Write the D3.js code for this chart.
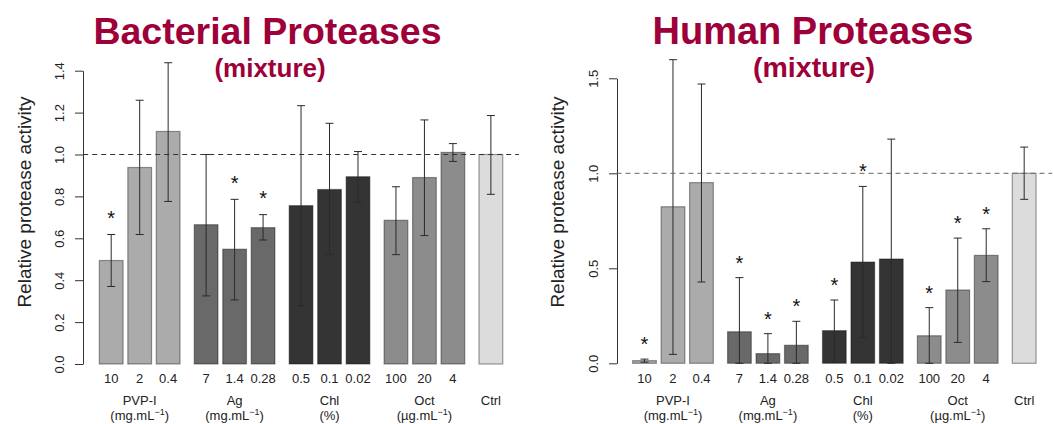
<!DOCTYPE html>
<html>
<head>
<meta charset="utf-8">
<script src="https://cdnjs.cloudflare.com/ajax/libs/d3/7.8.5/d3.min.js"></script>
<style>
  body { margin: 0; background: #fff; }
  text { font-family: "Liberation Sans", Arial, Helvetica, sans-serif; }
</style>
</head>
<body>
<div id="chart"></div>
<script>
// doses under each bar, and the treatment group each bar belongs to
const doses   = ["10", "2", "0.4", "7", "1.4", "0.28", "0.5", "0.1", "0.02", "100", "20", "4", ""];
const groupOf = [0, 0, 0, 1, 1, 1, 2, 2, 2, 3, 3, 3, 4];
const groupNames = ["PVP-I", "Ag", "Chl", "Oct", "Ctrl"];
const groupUnits = ["mg.mL", "mg.mL", "%", "\u00b5g.mL", null];
const groupFill  = ["#ababab", "#696969", "#343434", "#8c8c8c", "#dcdcdc"];

// bacterial proteases
const bactMean = [0.494, 0.938, 1.110, 0.665, 0.548, 0.651, 0.756, 0.833, 0.894, 0.686, 0.890, 1.010, 1.000];
const bactLow  = [0.370, 0.618, 0.776, 0.325, 0.306, 0.592, 0.278, 0.522, 0.773, 0.522, 0.613, 0.967, 0.810];
const bactHigh = [0.618, 1.259, 1.438, 1.000, 0.786, 0.713, 1.233, 1.149, 1.014, 0.846, 1.165, 1.052, 1.186];
const bactSig  = [1, 0, 0, 0, 1, 1, 0, 0, 0, 0, 0, 0, 0];
const bactTicks = [0, 0.2, 0.4, 0.6, 0.8, 1.0, 1.2, 1.4];

// human proteases
const humMean = [0.014, 0.824, 0.951, 0.166, 0.051, 0.095, 0.172, 0.533, 0.549, 0.145, 0.386, 0.568, 1.000];
const humLow  = [0.006, 0.047, 0.428, 0.000, 0.000, 0.000, 0.005, 0.135, 0.000, 0.000, 0.110, 0.430, 0.863];
const humHigh = [0.022, 1.598, 1.470, 0.451, 0.156, 0.221, 0.333, 0.931, 1.180, 0.293, 0.659, 0.708, 1.138];
const humSig  = [1, 0, 0, 1, 1, 1, 1, 1, 0, 1, 1, 1, 0];
const humTicks = [0, 0.5, 1.0, 1.5];

const W = 1053, H = 424;
const titleColor = "#9e0039";

const svg = d3.select("#chart").append("svg")
    .attr("width", W)
    .attr("height", H);

// barplot-like layout: width 1, space 0.2 inside a group, 0.6 before a group
let leftEdge = [];
let pos = 0;
for (let i = 0; i < doses.length; i++) {
    let first = i === 0 || groupOf[i] !== groupOf[i - 1];
    pos += first ? 0.6 : 0.2;
    leftEdge.push(pos);
    pos += 1;
}
const xPad = (pos - 0.6) * 0.04;
const xDomain = [0.6 - xPad, pos + xPad];
const unitPx = 23.73;

function panel(cfg) {
    let g = svg.append("g");

    let x = d3.scaleLinear()
        .domain(xDomain)
        .range([cfg.left, cfg.left + (xDomain[1] - xDomain[0]) * unitPx]);
    let y = d3.scaleLinear()
        .domain([0, cfg.yMax])
        .range([cfg.bottom, cfg.top]);
    let bw = x(1) - x(0);
    let cx = i => x(leftEdge[i]) + bw / 2;

    // titles
    g.append("text")
        .attr("x", cfg.titleX).attr("y", 43.5)
        .attr("text-anchor", "middle")
        .attr("font-size", cfg.titleSize).attr("font-weight", "bold")
        .attr("fill", titleColor)
        .text(cfg.title);
    g.append("text")
        .attr("x", cfg.subX).attr("y", 77)
        .attr("text-anchor", "middle")
        .attr("font-size", cfg.subSize).attr("font-weight", "bold")
        .attr("fill", titleColor)
        .text("(mixture)");

    // y axis
    let ax = g.append("g")
        .attr("transform", "translate(" + Math.round(cfg.left) + ",0)")
        .call(d3.axisLeft(y).tickValues(cfg.ticks).tickFormat(d3.format(".1f"))
            .tickSize(8).tickSizeOuter(0));
    ax.attr("font-size", 13);
    ax.select(".domain").attr("stroke", "#333");
    ax.selectAll(".tick line").attr("stroke", "#333");
    ax.selectAll(".tick text")
        .attr("transform", "rotate(-90)")
        .attr("x", 0).attr("y", -19.5).attr("dy", null)
        .attr("text-anchor", "middle")
        .attr("fill", "#222");

    g.append("text")
        .attr("transform", "translate(" + (cfg.left - 52.5) + ",202) rotate(-90)")
        .attr("text-anchor", "middle")
        .attr("font-size", 19)
        .attr("fill", "#222")
        .text("Relative protease activity");

    // bars
    g.append("g").selectAll("rect").data(cfg.mean)
        .enter()
        .append("rect")
        .attr("x", (d, i) => x(leftEdge[i]))
        .attr("y", d => y(d))
        .attr("width", bw)
        .attr("height", d => y(0) - y(d))
        .attr("fill", (d, i) => groupFill[groupOf[i]])
        .attr("stroke", "rgba(0,0,0,0.38)")
        .attr("stroke-width", 1.2);

    // error bars
    let eb = g.append("g").attr("stroke", "#2a2a2a").attr("stroke-width", 1);
    cfg.mean.forEach(function (d, i) {
        eb.append("line")
            .attr("x1", cx(i)).attr("x2", cx(i))
            .attr("y1", y(cfg.low[i])).attr("y2", y(cfg.high[i]));
        [cfg.low[i], cfg.high[i]].forEach(function (v) {
            eb.append("line")
                .attr("x1", cx(i) - 4).attr("x2", cx(i) + 4)
                .attr("y1", y(v)).attr("y2", y(v));
        });
    });

    // reference line at 1
    g.append("line")
        .attr("x1", x.range()[0]).attr("x2", x.range()[1])
        .attr("y1", y(1)).attr("y2", y(1))
        .attr("stroke", cfg.dashColor)
        .attr("stroke-width", 1)
        .attr("stroke-dasharray", "5,4");

    // significance stars
    let starIdx = [];
    cfg.sig.forEach((s, i) => { if (s === 1) starIdx.push(i); });
    g.append("g").selectAll("text").data(starIdx)
        .enter()
        .append("text")
        .attr("x", i => cx(i))
        .attr("y", i => y(cfg.high[i]) - cfg.starGap + 11.5)
        .attr("text-anchor", "middle")
        .attr("font-size", 20)
        .attr("fill", "#111")
        .text("*");

    // dose labels
    g.append("g").selectAll("text").data(doses)
        .enter()
        .append("text")
        .attr("x", (d, i) => cx(i))
        .attr("y", 383.3)
        .attr("text-anchor", "middle")
        .attr("font-size", 13)
        .attr("fill", "#222")
        .text(d => d);

    // group labels
    groupNames.forEach(function (name, gi) {
        let idx = [];
        groupOf.forEach((v, i) => { if (v === gi) idx.push(i); });
        let gx = (x(leftEdge[idx[0]]) + x(leftEdge[idx[idx.length - 1]] + 1)) / 2;
        g.append("text")
            .attr("x", gx).attr("y", 405)
            .attr("text-anchor", "middle")
            .attr("font-size", 13)
            .attr("fill", "#222")
            .text(name);
        let u = groupUnits[gi];
        if (u === null) return;
        let t = g.append("text")
            .attr("x", gx).attr("y", 420)
            .attr("text-anchor", "middle")
            .attr("font-size", 13)
            .attr("fill", "#222");
        if (u === "%") {
            t.text("(%)");
        } else {
            t.append("tspan").text("(" + u);
            t.append("tspan").attr("dy", -5).attr("font-size", 9).text("\u22121");
            t.append("tspan").attr("dy", 5).text(")");
        }
    });
}

panel({
    left: 83.2, bottom: 364, top: 70.7, yMax: 1.4, ticks: bactTicks,
    mean: bactMean, low: bactLow, high: bactHigh, sig: bactSig,
    title: "Bacterial Proteases", titleX: 267.5, titleSize: 37.5,
    subX: 270, subSize: 26, dashColor: "#333", starGap: 21
});

panel({
    left: 616.5, bottom: 363.3, top: 78.3, yMax: 1.5, ticks: humTicks,
    mean: humMean, low: humLow, high: humHigh, sig: humSig,
    title: "Human Proteases", titleX: 813, titleSize: 38,
    subX: 814, subSize: 28.5, dashColor: "#666", starGap: 19.5
});
</script>
</body>
</html>
